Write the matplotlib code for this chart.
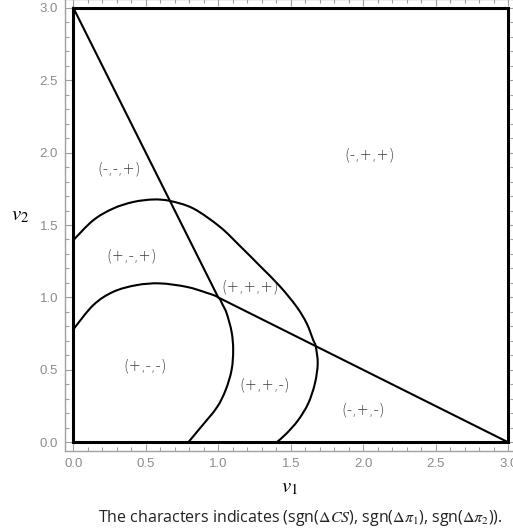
import matplotlib
matplotlib.use("Agg")
import matplotlib.pyplot as plt
import numpy as np
from matplotlib.path import Path
from matplotlib.patches import PathPatch
from matplotlib.ticker import MultipleLocator, FormatStrFormatter

plt.rcParams['mathtext.fontset'] = 'stix'

# boundary of the region and the kinked line
box_x = [0, 3, 3, 0, 0]
box_y = [0, 0, 3, 3, 0]
kink_x = [0, 1, 3]
kink_y = [3, 1, 0]

# inner curve
inner_x = [0.0, 0.138, 0.276, 0.437, 0.598, 0.782, 0.92, 1.0, 1.03, 1.058, 1.092, 1.103,
           1.092, 1.051, 0.99, 0.874, 0.793]
inner_y = [0.779, 0.947, 1.039, 1.085, 1.097, 1.073, 1.032, 1.0, 0.95, 0.89, 0.763, 0.637,
           0.499, 0.361, 0.24, 0.097, 0.0]

# outer curve
outer_x = [0.0, 0.138, 0.276, 0.414, 0.552, 0.667, 0.828, 1.012, 1.15, 1.288, 1.426,
           1.541, 1.61, 1.655, 1.672, 1.686, 1.667, 1.621, 1.552, 1.472, 1.403]
outer_y = [1.395, 1.533, 1.614, 1.659, 1.676, 1.666, 1.614, 1.487, 1.355, 1.217, 1.076,
           0.935, 0.821, 0.706, 0.664, 0.545, 0.407, 0.269, 0.154, 0.062, 0.0]

region_labels = ["(-,-,+)", "(-,+,+)", "(+,-,+)", "(+,+,+)", "(+,-,-)", "(+,+,-)", "(-,+,-)"]
label_x = [0.315, 2.045, 0.40, 1.22, 0.495, 1.32, 2.0]
label_y = [1.89, 1.98, 1.285, 1.07, 0.53, 0.395, 0.223]


def smooth_path(xs, ys):
    # pass a smooth bezier through the read points (Catmull-Rom style handles)
    p = np.column_stack([xs, ys])
    verts = [p[0]]
    codes = [Path.MOVETO]
    n = len(p)
    for i in range(n - 1):
        p0 = p[i - 1] if i > 0 else p[i]
        p3 = p[i + 2] if i + 2 < n else p[i + 1]
        c1 = p[i] + (p[i + 1] - p0) / 6
        c2 = p[i + 1] - (p3 - p[i]) / 6
        verts += [c1, c2, p[i + 1]]
        codes += [Path.CURVE4] * 3
    return Path(verts, codes)


W, H = 513, 529
fig = plt.figure(figsize=(W / 100, H / 100), dpi=100)
ax = fig.add_axes([65 / W, (H - 451) / H, (514 - 65) / W, (451 + 1) / H])

ax.plot(box_x, box_y, color='black', lw=2.2, solid_joinstyle='miter', clip_on=False)
ax.plot(kink_x, kink_y, color='black', lw=1.5)
for xs, ys in [(inner_x, inner_y), (outer_x, outer_y)]:
    ax.add_patch(PathPatch(smooth_path(xs, ys), fill=False, edgecolor='black', lw=1.5))

for t, x, y in zip(region_labels, label_x, label_y):
    ax.text(x, y, t, ha='center', va='center', fontsize=10.5, color='#3c3c3c',
            family='DejaVu Sans', fontweight='light')

ax.set_xlim(-0.057, 3.04)
ax.set_ylim(-0.06, 3.06)

ax.xaxis.set_major_locator(MultipleLocator(0.5))
ax.yaxis.set_major_locator(MultipleLocator(0.5))
ax.xaxis.set_minor_locator(MultipleLocator(0.1))
ax.yaxis.set_minor_locator(MultipleLocator(0.1))
ax.tick_params(which='both', direction='in', top=True, right=True, color='#a0a0a0',
               labelcolor='#8c8c8c', labelsize=9.5, width=0.8)
ax.tick_params(which='major', length=5, pad=5)
ax.tick_params(which='minor', length=3)
ax.xaxis.set_major_formatter(FormatStrFormatter('%.1f'))
ax.yaxis.set_major_formatter(FormatStrFormatter('%.1f'))
for lab in ax.get_xticklabels() + ax.get_yticklabels():
    lab.set_family('Liberation Sans')
for s in ax.spines.values():
    s.set_color('#a0a0a0')
    s.set_linewidth(1.0)

fig.text(20 / W, 1 - 215 / H, r'$v_2$', fontsize=15, ha='center', va='center')
fig.text(290 / W, 1 - 487 / H, r'$v_1$', fontsize=15, ha='center', va='center')
fig.text(300 / W, 1 - 518 / H,
         r'The characters indicates (sgn($\Delta CS$), sgn($\Delta\pi_1$), sgn($\Delta\pi_2$)).',
         fontsize=11.5, ha='center', va='center', family='Open Sans', color='#222222')

fig.savefig('out.png', dpi=100)
